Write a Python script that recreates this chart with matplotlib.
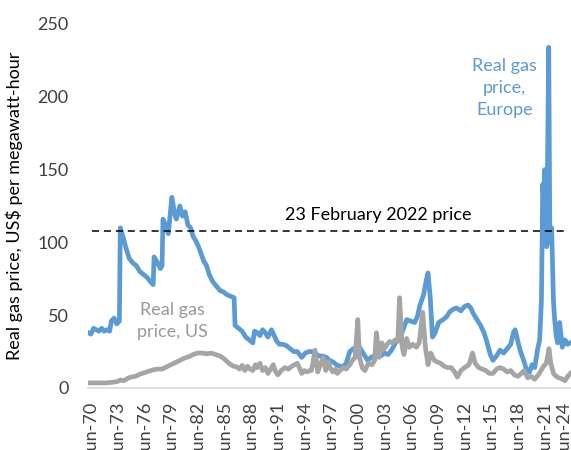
import numpy as np
import matplotlib.pyplot as plt

plt.rcParams['font.family'] = ['Lato', 'DejaVu Sans']

# Europe real gas price (US$/MWh)
eu_years = [1970.0, 1970.3, 1970.6, 1970.9, 1971.2, 1971.5, 1971.8, 1972.1, 1972.4, 1972.6,
            1972.9, 1973.2, 1973.5, 1973.6, 1973.9, 1974.2, 1974.6, 1975.0, 1975.4, 1975.8,
            1976.2, 1976.6, 1977.0, 1977.3, 1977.4, 1977.8, 1978.1, 1978.3, 1978.4, 1978.7,
            1979.0, 1979.4, 1979.7, 1979.9, 1980.3, 1980.6, 1980.9, 1981.2, 1981.5, 1981.8,
            1982.1, 1982.4, 1982.7, 1983.0, 1983.3, 1983.6, 1984.0, 1984.4, 1984.8, 1985.2,
            1985.6, 1986.0, 1986.4, 1986.5, 1986.9, 1987.3, 1987.7, 1988.1, 1988.5, 1988.7,
            1989.0, 1989.3, 1989.6, 1989.9, 1990.2, 1990.6, 1990.9, 1991.2, 1991.5, 1991.9,
            1992.3, 1992.7, 1993.1, 1993.5, 1994.0, 1994.4, 1994.8, 1995.1, 1995.5, 1995.9,
            1996.3, 1996.8, 1997.1, 1997.5, 1997.9, 1998.3, 1998.7, 1999.0, 1999.4, 1999.8,
            2000.5, 2000.9, 2001.4, 2001.8, 2002.1, 2002.5, 2002.9, 2003.3, 2003.7, 2004.1,
            2004.7, 2005.0, 2005.4, 2005.8, 2006.2, 2006.7, 2007.0, 2007.3, 2007.7, 2008.0,
            2008.2, 2008.45, 2008.7, 2009.0, 2009.4, 2009.9, 2010.3, 2010.6, 2011.0, 2011.4,
            2011.9, 2012.3, 2012.7, 2013.0, 2013.3, 2013.7, 2014.1, 2014.5, 2014.8, 2015.2,
            2015.5, 2015.9, 2016.3, 2016.7, 2017.1, 2017.5, 2017.8, 2018.0, 2018.3, 2018.6,
            2018.9, 2019.3, 2019.6, 2019.9, 2020.2, 2020.5, 2020.75, 2020.95, 2021.1, 2021.2,
            2021.32, 2021.45, 2021.54, 2021.65, 2021.77, 2021.9, 2022.1, 2022.3, 2022.44, 2022.6,
            2022.78, 2023.0, 2023.3, 2023.6, 2023.9, 2024.2]
eu_price = [38, 37, 41, 40, 39, 41, 39, 40, 39, 46,
            48, 44, 46, 110, 104, 97, 89, 86, 84, 80,
            78, 76, 73, 71, 90, 86, 82, 84, 116, 112,
            106, 131, 120, 116, 125, 118, 121, 112, 110, 104,
            101, 97, 92, 87, 84, 78, 73, 70, 67, 66,
            64, 63, 62, 43, 41, 39, 35, 33, 31, 39,
            38, 36, 40, 38, 35, 40, 36, 32, 30, 30,
            29, 27, 25, 25, 21, 24, 25, 25, 24, 22,
            22, 21, 19, 18, 16, 15, 15, 17, 25, 27,
            28, 24, 19, 21, 22, 23, 22, 24, 23, 26,
            33, 34, 40, 47, 46, 45, 49, 57, 64, 74,
            79, 62, 35, 38, 45, 47, 49, 52, 54, 55,
            53, 56, 57, 55, 51, 47, 43, 38, 32, 23,
            19, 22, 26, 24, 27, 30, 38, 40, 32, 25,
            20, 12, 11, 16, 14, 26, 33, 60, 140, 128,
            150, 120, 97, 160, 234, 100, 110, 60, 47, 36,
            31, 45, 28, 33, 30, 31]

# US real gas price (US$/MWh)
us_years = [1970.0, 1971.0, 1972.0, 1972.8, 1973.3, 1973.6, 1974.0, 1974.4, 1974.8, 1975.3,
            1975.8, 1976.3, 1976.8, 1977.3, 1977.8, 1978.3, 1978.8, 1979.3, 1979.8, 1980.3,
            1980.8, 1981.3, 1981.8, 1982.3, 1982.8, 1983.3, 1983.8, 1984.3, 1984.8, 1985.3,
            1985.8, 1986.3, 1986.7, 1987.0, 1987.3, 1987.6, 1987.9, 1988.2, 1988.5, 1988.8,
            1989.0, 1989.3, 1989.6, 1989.9, 1990.2, 1990.5, 1990.8, 1991.0, 1991.3, 1991.7,
            1992.1, 1992.5, 1992.9, 1993.2, 1993.5, 1993.8, 1994.0, 1994.3, 1994.6, 1994.9,
            1995.1, 1995.5, 1995.8, 1996.1, 1996.4, 1996.7, 1997.0, 1997.2, 1997.5, 1997.8,
            1998.0, 1998.3, 1998.7, 1999.0, 1999.4, 1999.7, 2000.0, 2000.3, 2000.5, 2000.8,
            2001.1, 2001.5, 2001.9, 2002.2, 2002.4, 2002.7, 2003.0, 2003.3, 2003.6, 2003.9,
            2004.2, 2004.5, 2004.8, 2005.0, 2005.3, 2005.5, 2005.8, 2006.1, 2006.5, 2006.9,
            2007.2, 2007.6, 2007.9, 2008.2, 2008.5, 2008.9, 2009.2, 2009.6, 2010.0, 2010.4,
            2010.8, 2011.2, 2011.5, 2011.9, 2012.3, 2012.8, 2013.2, 2013.5, 2013.9, 2014.3,
            2014.7, 2015.1, 2015.5, 2015.9, 2016.3, 2016.7, 2017.1, 2017.5, 2017.9, 2018.3,
            2018.7, 2019.0, 2019.4, 2019.8, 2020.2, 2020.6, 2020.9, 2021.2, 2021.5, 2021.8,
            2022.0, 2022.3, 2022.6, 2022.9, 2023.2, 2023.6, 2023.9, 2024.2]
us_price = [3.5, 3.5, 3.5, 4, 4.5, 5.5, 5, 6.5, 7.5, 8,
            9.5, 10.5, 11.5, 12.5, 13, 13, 14.5, 16, 17.5, 19,
            20.5, 21.5, 23, 24, 24, 23.5, 24, 23, 22, 20,
            17, 15, 14.5, 13, 15.5, 12, 15, 13, 12, 16,
            14, 17, 12, 14, 10, 13, 16, 12, 9, 12,
            14, 13, 15, 16, 17, 13, 10, 12, 11, 12,
            12, 26, 11, 16, 21, 12, 18, 14, 11, 13,
            10, 12, 14, 13, 16, 19, 21, 47, 21, 14,
            12, 17, 16, 19, 38, 21, 31, 27, 30, 32,
            31, 33, 32, 62, 28, 23, 34, 28, 30, 28,
            31, 52, 28, 16, 24, 19, 18, 17, 15, 14,
            14, 11, 7.5, 12, 14, 16, 24, 17, 14, 13,
            12, 10, 10, 13, 14, 13, 11, 12, 9, 8,
            10, 12, 7, 8, 6, 9, 12, 15, 17, 27,
            17, 10, 8, 7, 6.5, 5, 8, 10]

feb22_price = 107.5
tick_years = list(range(1970, 2025, 3))
tick_labels = ["Jun-%02d" % (y % 100) for y in tick_years]

blue = '#5B9BD5'
grey = '#A5A5A5'

fig = plt.figure(figsize=(5.71, 4.5), dpi=100)
ax = fig.add_axes([88 / 571, 62 / 450, 485 / 571, 364 / 450])

ax.plot(eu_years, eu_price, color=blue, lw=3.4, solid_joinstyle='round', zorder=2)
ax.plot(us_years, us_price, color=grey, lw=3.4, solid_joinstyle='round', zorder=3)
ax.axhline(feb22_price, xmin=0.008, xmax=0.985, color='black', lw=1.1,
           dashes=(4.6, 3.2), zorder=4)

ax.text(2002.55, 119, "23 February 2022 price", ha='center', va='center', fontsize=13)
ax.text(2016.8, 206, "Real gas\nprice,\nEurope", ha='center', va='center',
        fontsize=13, color=blue, linespacing=1.45)
ax.text(1979.5, 46, "Real gas\nprice, US", ha='center', va='center',
        fontsize=13, color='#999999', linespacing=1.4)

ax.set_xlim(1969.97, 2024.5)
ax.set_ylim(0, 250)
ax.set_yticks(np.arange(0, 251, 50))
ax.set_xticks([y + 5 / 12 for y in tick_years])
ax.set_xticklabels(tick_labels, rotation=90, va='top', ha='center')
ax.get_xticklabels()[-1].set_ha('right')

ax.tick_params(axis='both', length=0, labelsize=13, colors='#404040')
ax.tick_params(axis='x', pad=10)
ax.tick_params(axis='y', pad=14)
ax.set_ylabel("Real gas price, US$ per megawatt-hour", fontsize=13, color='black', labelpad=10)

for s in ['top', 'right', 'left']:
    ax.spines[s].set_visible(False)
ax.spines['bottom'].set_color('#D9D9D9')
ax.spines['bottom'].set_linewidth(1.2)

fig.savefig('out.png', dpi=100)
